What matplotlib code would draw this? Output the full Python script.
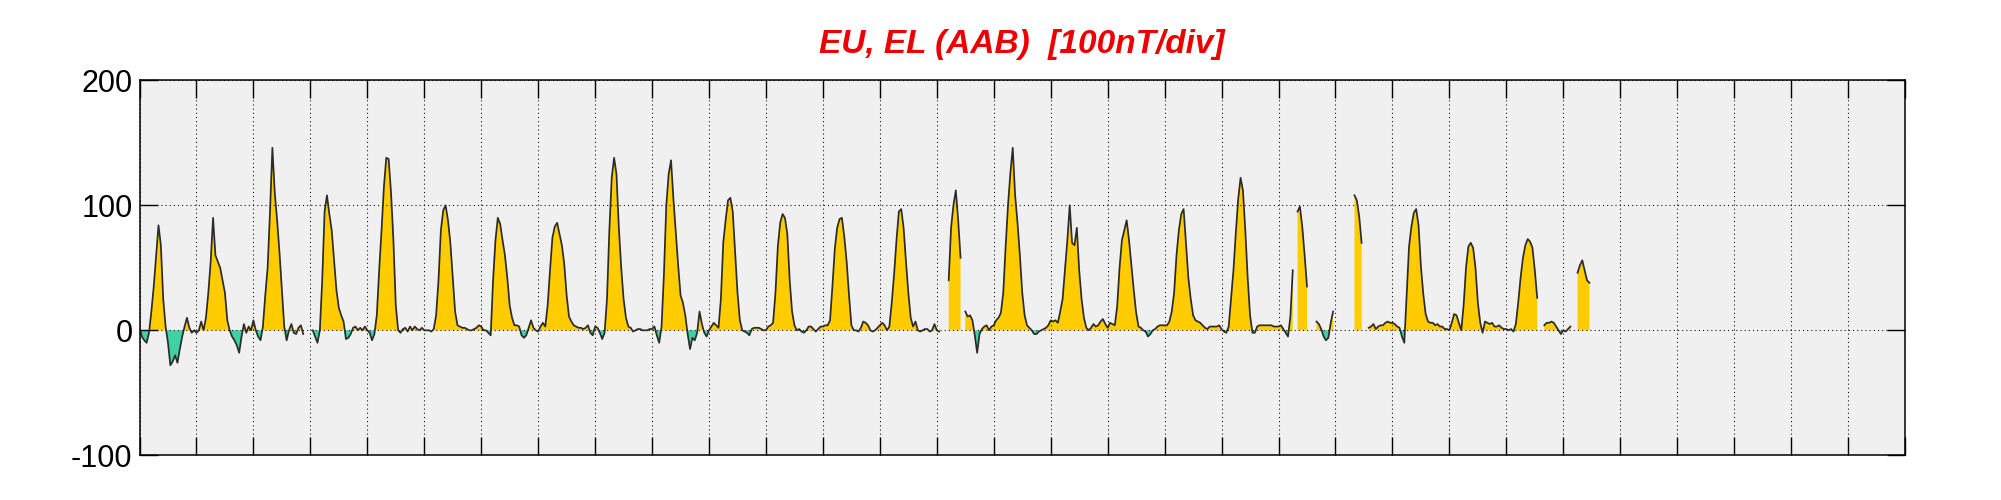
import numpy as np
import matplotlib
matplotlib.use("Agg")
import matplotlib.pyplot as plt

nan = np.nan

# hourly EU/EL values [nT], one list per day (hour 0..23)
d00 = [2, -5, -8, -10, -2, 15, 35, 60, 84, 68, 25, 3, -10, -28, -25, -20, -26, -15, -5, 3, 10, 2, -2, 0]
d01 = [-2, 0, 7, 0, 10, 30, 55, 90, 60, 55, 50, 40, 30, 8, 0, -5, -8, -12, -18, -5, 5, -2, 3, 0]
d02 = [8, 0, -5, -8, 3, 28, 50, 95, 146, 110, 88, 62, 32, 3, -8, 0, 5, -2, -3, 2, 4, -3, nan, nan]
d03 = [nan, 0, -5, -10, 0, 40, 95, 108, 93, 80, 56, 32, 18, 12, 7, -7, -6, -3, 2, 3, 0, 2, 0, 3]
d04 = [0, -2, -8, -3, 12, 48, 80, 115, 138, 137, 110, 72, 20, 0, -2, 1, 2, -1, 3, 0, 3, 1, 0, 2]
d05 = [0, 0, 0, -1, 1, 12, 40, 80, 96, 100, 88, 70, 42, 15, 4, 3, 2, 2, 1, 0, 0, 1, 2, 4]
d06 = [3, 0, 0, -2, -4, 40, 72, 90, 85, 72, 60, 42, 20, 10, 4, 4, 3, -4, -6, -4, 2, 8, 2, 0]
d07 = [-1, 3, 6, 3, 20, 48, 74, 83, 86, 77, 68, 53, 28, 11, 7, 4, 3, 2, 2, 1, 2, 4, -2, -4]
d08 = [3, 2, -2, -7, -2, 25, 80, 122, 138, 125, 82, 50, 25, 10, 3, 2, -1, 0, 1, 1, 0, 0, 0, 1]
d09 = [1, 3, -4, -10, 3, 45, 100, 125, 136, 105, 78, 52, 28, 22, 12, -3, -15, -6, -8, -2, 15, 5, -2, -5]
d10 = [0, 3, 6, 4, 2, 25, 70, 88, 104, 106, 95, 62, 30, 8, 0, -1, -2, -4, 1, 2, 2, 2, 1, 0]
d11 = [0, 3, 4, 6, 30, 67, 86, 93, 90, 77, 40, 15, 4, 0, 1, -1, -2, 0, 3, 3, 1, -1, 1, 3]
d12 = [3, 4, 4, 8, 35, 65, 82, 89, 90, 75, 55, 28, 4, 0, 0, -1, 2, 7, 6, 4, 0, -1, 0, 2]
d13 = [4, 6, 4, 0, 3, 22, 45, 72, 95, 97, 82, 55, 30, 10, 3, 7, 0, -1, 0, 1, 1, -1, 0, 5]
d14 = [0, -1, nan, nan, nan, 40, 82, 100, 112, 88, 58, nan, 15, 11, 12, 8, -4, -18, -3, 1, 3, 4, 0, 3]
d15 = [4, 8, 10, 14, 30, 67, 100, 126, 146, 108, 86, 60, 30, 12, 4, 2, 0, -3, -3, -1, 0, 1, 2, 4]
d16 = [8, 7, 8, 6, 15, 25, 48, 72, 100, 70, 68, 82, 48, 25, 10, 2, 0, 2, 5, 3, 4, 7, 9, 5]
d17 = [2, 6, 5, 4, 19, 50, 72, 80, 88, 72, 52, 32, 14, 3, 2, 0, -1, -5, -3, 0, 1, 3, 4, 4]
d18 = [4, 4, 7, 15, 30, 60, 80, 93, 97, 70, 42, 25, 12, 8, 7, 6, 4, 2, 1, 3, 3, 3, 3, 4]
d19 = [1, -1, -2, 3, 25, 48, 78, 105, 122, 112, 80, 42, 12, -2, -2, 3, 4, 4, 4, 4, 4, 4, 3, 3]
d20 = [3, 4, 1, -2, -5, 11, 48, nan, 95, 99, 83, 60, 35, nan, nan, nan, 7, 5, 1, -5, -8, -6, 6, 15]
d21 = [nan, nan, nan, nan, nan, nan, nan, nan, 108, 104, 91, 70, nan, nan, 2, 3, 5, 1, 3, 4, 4, 6, 7, 6]
d22 = [6, 5, 3, 2, -5, -10, 28, 67, 83, 94, 97, 84, 51, 29, 13, 7, 6, 6, 4, 5, 3, 3, 1, 1]
d23 = [0, 6, 13, 12, 6, 0, 20, 50, 67, 70, 66, 50, 22, 6, -2, 7, 6, 5, 6, 3, 3, 4, 2, 1]
d24 = [1, 0, 1, -1, 5, 22, 42, 58, 68, 73, 71, 66, 48, 26, nan, nan, 4, 6, 6, 7, 6, 3, 0, -3]
d25 = [0, -1, 1, 3, nan, nan, 46, 52, 56, 48, 40, 38]

days = [d00, d01, d02, d03, d04, d05, d06, d07, d08, d09, d10, d11, d12,
        d13, d14, d15, d16, d17, d18, d19, d20, d21, d22, d23, d24, d25]

n_days = 31
y_ticks = [-100, 0, 100, 200]
title = "EU, EL (AAB)  [100nT/div]"

vals = np.array([v for d in days for v in d], dtype=float)
t = np.arange(len(vals)) / 24.0

plt.rcParams['font.family'] = ['Liberation Sans', 'DejaVu Sans']

fig = plt.figure(figsize=(20.01, 5), dpi=100)
ax = fig.add_axes([139.5 / 2001, 44.7 / 500, 1765.5 / 2001, 375 / 500])
ax.set_facecolor('#f0f0f0')

ok = np.isfinite(vals)
ax.fill_between(t, 0, vals, where=ok & (vals >= 0), interpolate=True,
                color='#ffcc00', lw=0)
ax.fill_between(t, 0, vals, where=ok & (vals <= 0), interpolate=True,
                color='#3fd0a4', lw=0)
ax.plot(t, vals, color='#2b2b2b', lw=1.25)

ax.set_xlim(0, n_days)
ax.set_ylim(y_ticks[0], y_ticks[-1])
ax.set_xticks(np.arange(0, n_days + 1))
ax.set_xticklabels([])
ax.set_yticks(y_ticks)
ax.set_yticklabels([str(v) for v in y_ticks])
ax.tick_params(direction='in', length=13, width=1.0, top=True, right=True,
               labelsize=22, pad=5, colors='black')
ax.grid(True, color='black', lw=0.75, linestyle=(0, (1, 3)))
for s in ax.spines.values():
    s.set_linewidth(1.1)

fig.text(ax.get_position().x0 + ax.get_position().width / 2, 1 - 45 / 500, title,
         ha='center', va='center', color='#ee0000', fontsize=24,
         fontweight='bold', fontstyle='italic')

fig.savefig('out.png', dpi=100)
